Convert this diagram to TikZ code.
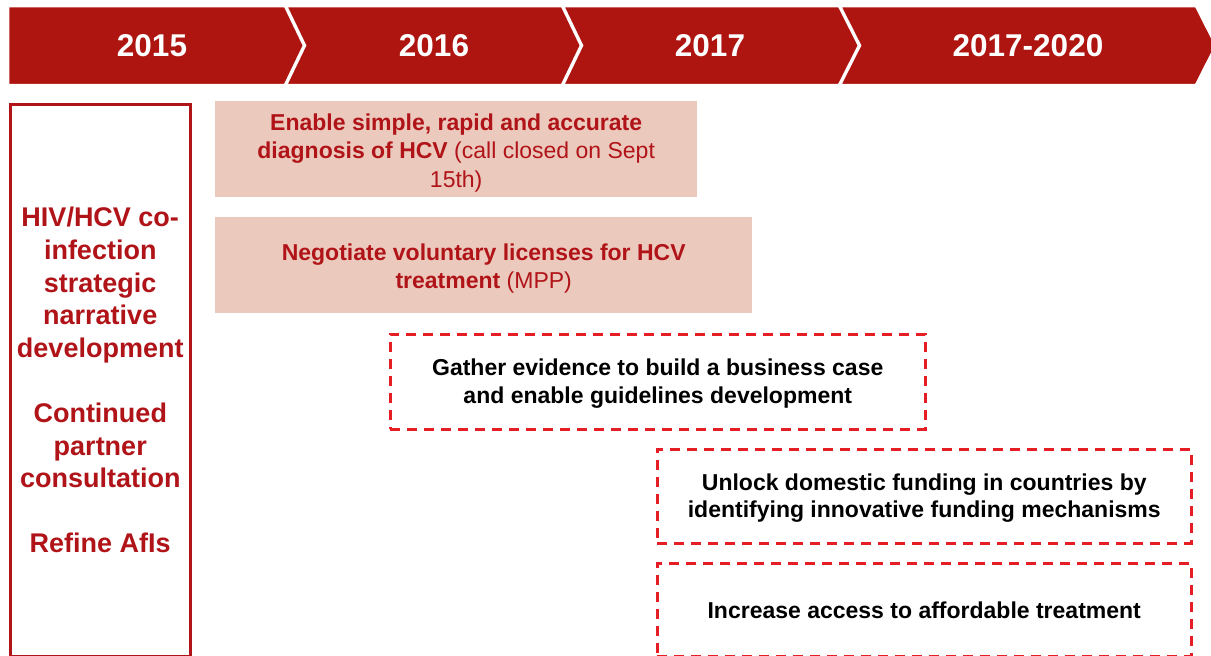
\documentclass[tikz,border=0pt]{standalone}
\usepackage{fontspec}
\setmainfont{Liberation Sans}
\definecolor{hdr}{HTML}{AE1410}
\definecolor{dred}{HTML}{B01418}
\definecolor{pinkfill}{HTML}{ECC9BD}
\definecolor{dashred}{HTML}{E41E24}
\begin{document}
\begin{tikzpicture}[x=1pt,y=-1pt,
 seg/.style={fill=hdr,draw=white,line width=2.5pt,line join=miter},
 year/.style={text=white,font=\bfseries\fontsize{31.5}{36}\selectfont},
 pinkbox/.style={fill=pinkfill,draw=none,inner sep=0pt,anchor=north west},
 pinktxt/.style={text=dred,align=center,inner sep=0pt,font=\fontsize{23}{28.5}\selectfont},
 dbox/.style={draw=dashred,line width=2.5pt,dash pattern=on 10pt off 7pt,inner sep=0pt,anchor=north west},
 dtxt/.style={align=center,text=black,inner sep=0pt,font=\bfseries\fontsize{23}{27.5}\selectfont},
 leftbox/.style={draw=dred,line width=2.5pt,inner sep=0pt,anchor=north west,align=center,text=dred,font=\bfseries\fontsize{27}{32.6}\selectfont}
]
\useasboundingbox (0,0) rectangle (1211,656);
\fill[white] (0,0) rectangle (1211,656);
% header chevrons
\draw[seg] (8,6) -- (285,6) -- (304,45.5) -- (285,85) -- (8,85) -- cycle;
\draw[seg] (286,6) -- (562,6) -- (581,45.5) -- (562,85) -- (286,85) -- (305,45.5) -- cycle;
\draw[seg] (563,6) -- (839,6) -- (859,45.5) -- (839,85) -- (563,85) -- (582,45.5) -- cycle;
\draw[seg] (840,6) -- (1196,6) -- (1216,45.5) -- (1196,85) -- (840,85) -- (860,45.5) -- cycle;
\node[year] (y1) at (152,46) {2015};
\node[year] (y2) at (434,46) {2016};
\node[year] (y3) at (710,46) {2017};
\node[year] (y4) at (1028,46) {2017-2020};
% left box
\node[leftbox,minimum width=180pt,minimum height=552pt] (left) at (9,103)
 {HIV/HCV co-\\infection\\strategic\\narrative\\development\\[32.6pt]Continued\\partner\\consultation\\[32.6pt]Refine AfIs};
% pink boxes
\node[pinkbox,minimum width=482pt,minimum height=96pt] (p1) at (215,101) {};
\node[pinktxt] (p1t) at ([yshift=-3.5pt]p1.center)
 {\textbf{Enable simple, rapid and accurate}\\\textbf{diagnosis of HCV} (call closed on Sept\\15th)};
\node[pinkbox,minimum width=537pt,minimum height=96pt] (p2) at (215,217) {};
\node[pinktxt] (p2t) at ([yshift=-3.5pt]p2.center)
 {\textbf{Negotiate voluntary licenses for HCV}\\\textbf{treatment} (MPP)};
% dashed boxes
\node[dbox,minimum width=535pt,minimum height=95pt] (d1) at (389,333) {};
\node[dtxt] (d1t) at ([yshift=-2pt]d1.center)
 {Gather evidence to build a business case\\and enable guidelines development};
\node[dbox,minimum width=534pt,minimum height=94pt] (d2) at (656,448) {};
\node[dtxt] (d2t) at ([yshift=-2pt]d2.center)
 {Unlock domestic funding in countries by\\identifying innovative funding mechanisms};
\node[dbox,minimum width=534pt,minimum height=93pt] (d3) at (656,562) {};
\node[dtxt] (d3t) at ([yshift=-1pt]d3.center)
 {Increase access to affordable treatment};
\end{tikzpicture}
\end{document}
